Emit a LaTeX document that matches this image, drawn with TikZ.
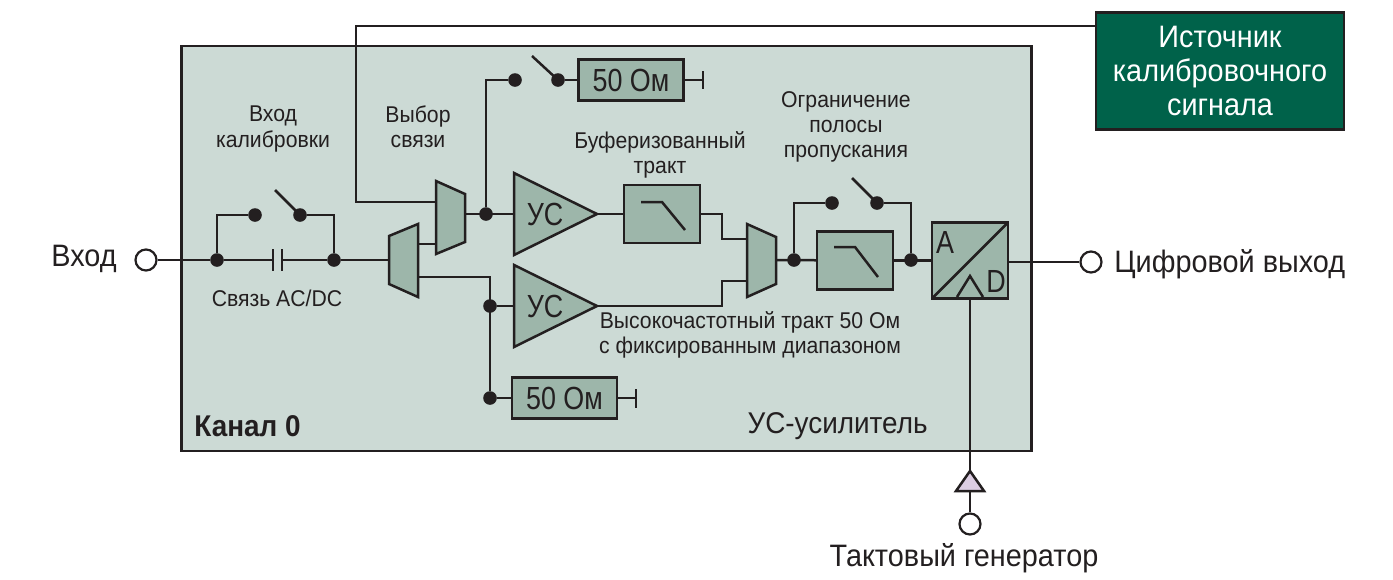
\documentclass[tikz,border=0pt]{standalone}
\usepackage{fontspec}
\setmainfont{Liberation Sans}[FakeStretch=0.93]
\newfontfamily\tallfont{Liberation Sans}[FakeStretch=0.84]
\definecolor{panelc}{HTML}{CCDAD5}
\definecolor{blockc}{HTML}{9DB6AA}
\definecolor{sourcec}{HTML}{00624A}
\definecolor{clockc}{HTML}{DCCDE2}
\definecolor{inkc}{HTML}{231F20}

\begin{document}
\begin{tikzpicture}[
  x=0.5pt, y=-0.5pt,
  wire/.style={draw=inkc, line width=1.25pt, line join=miter},
  block/.style={wire, fill=blockc},
  dotnode/.style={circle, fill=inkc, inner sep=0pt, minimum size=6.8pt},
  pinnode/.style={circle, draw=inkc, fill=white, line width=1.1pt, inner sep=0pt, minimum size=10.5pt},
  talllbl/.style={align=center, text=inkc, inner sep=0pt, font=\tallfont\fontsize{16}{16}\selectfont},
  loadbox/.style={block, talllbl, rectangle, outer sep=0pt, minimum width=52.5pt, minimum height=20.5pt},
  filterbox/.style={block, rectangle, inner sep=0pt, outer sep=0pt, minimum width=38pt, minimum height=29pt},
  lbl/.style={align=center, text=inkc, inner sep=0pt, font=\fontsize{11.4}{12.6}\selectfont},
  biglbl/.style={align=center, text=inkc, inner sep=0pt, font=\fontsize{15.5}{15.5}\selectfont}
  ]

\useasboundingbox (0,0) rectangle (1393,579);

\node [rectangle, draw=inkc, fill=panelc, line width=1.25pt, minimum width=425pt, minimum height=202.5pt, inner sep=0pt] (panel) at (606.5,248.5) {};
\node [rectangle, draw=inkc, fill=sourcec, line width=1.25pt, minimum width=124pt, minimum height=58.5pt, inner sep=0pt, outer sep=0pt, align=center, text=white, font=\fontsize{15.5}{16.8}\selectfont] (src) at (1220,71) {Источник\\калибровочного\\сигнала};

% input side
\node [pinnode] (vin) at (146,260) {};
\node [dotnode] (j1) at (217,260) {};
\node [dotnode] (j2) at (334,260) {};
\node [dotnode] (sw1a) at (255,215) {};
\node [dotnode] (sw1b) at (300,215) {};
\coordinate (sw1end) at (275,190);
\coordinate (capl) at (273,260);
\coordinate (capr) at (282,260);

% muxes
\coordinate (mux1in) at (389,260);
\coordinate (mux1up) at (418,244);
\coordinate (mux1dn) at (418,277);
\coordinate (mux2up) at (436,202);
\coordinate (mux2dn) at (436,244);
\coordinate (mux2out) at (465,214);
\coordinate (mux3up) at (747,239);
\coordinate (mux3dn) at (747,281);
\coordinate (mux3out) at (776,260);
\coordinate (calturn) at (356,26);
\coordinate (srcout) at (1096,26);

\draw [block] (389,236) -- (418,224) -- (418,297) -- (389,284) -- cycle;
\draw [block] (436,181) -- (465,194) -- (465,242) -- (436,254) -- cycle;
\draw [block] (747,224) -- (776,237) -- (776,284) -- (747,297) -- cycle;

% amplifiers
\draw [block] (514,173) coordinate (amp1in) -- (597,214) coordinate (amp1out) -- (514,255) -- cycle;
\draw [block] (514,265) -- (597,306) coordinate (amp2out) -- (514,347) -- cycle;
\coordinate (amp1w) at (514,214);
\coordinate (amp2w) at (514,306);
\node [talllbl] (amp1) at (545,214) {УС};
\node [talllbl] (amp2) at (545,306) {УС};

% upper and lower branches
\node [dotnode] (j3) at (486,214) {};
\node [dotnode] (sw2a) at (515,80) {};
\node [dotnode] (sw2b) at (558,80) {};
\coordinate (sw2end) at (532,56);
\node [loadbox] (load1) at (631,80) {50 Ом};
\coordinate (gnd1) at (703,80);
\node [dotnode] (j4) at (490,306) {};
\node [dotnode] (j5) at (490,398) {};
\node [loadbox] (load2) at (564.5,398) {50 Ом};
\coordinate (gnd2) at (636,398);

% filters
\node [filterbox] (filt1) at (662,214) {};
\node [filterbox] (filt2) at (855,260.5) {};
\draw [wire] ([shift={(-21,-12)}]filt1.center) -- ++(21,0) -- ++(23,28);
\draw [wire] ([shift={(-21,-13.5)}]filt2.center) -- ++(21,0) -- ++(23,30);
\coordinate (turn1) at (722,214);
\coordinate (turn2) at (722,306);

% bandwidth switch
\node [dotnode] (j6) at (794,260) {};
\node [dotnode] (j7) at (911,260) {};
\node [dotnode] (sw3a) at (832,203) {};
\node [dotnode] (sw3b) at (877,203) {};
\coordinate (sw3end) at (852,178);

% ADC
\node [block, rectangle, inner sep=0pt, outer sep=0pt, minimum size=38pt] (adc) at (970,260.5) {};
\draw [wire] (adc.south west) -- (adc.north east);
\draw [wire] (957,297) -- (970,276) -- (983,297);
\node [talllbl] (adca) at (945,242) {A};
\node [talllbl] (adcd) at (996,281) {D};
\node [pinnode] (vout) at (1091,262) {};
\coordinate (adcout) at (1008,262);

% clock
\draw [wire, fill=clockc] (970,471) coordinate (clktop) -- (984,491) -- (956,491) -- cycle;
\coordinate (clkbot) at (970,491);
\node [pinnode] (clk) at (970,524) {};

% connections
\draw [wire] (vin) -- (j1);
\draw [wire] (j1) -- (capl);
\draw [wire] (capr) -- (j2);
\draw [wire] (j2) -- (mux1in);
\draw [wire] (j1) |- (sw1a);
\draw [wire] (j2) |- (sw1b);
\draw [wire] (sw1b.center) -- (sw1end);
\draw [wire] (273,249) -- (273,271);
\draw [wire] (282,249) -- (282,271);
\draw [wire] (mux1up) -- (mux2dn);
\draw [wire] (srcout) -- (calturn) |- (mux2up);
\draw [wire] (mux2out) -- (amp1w);
\draw [wire] (j3) |- (sw2a);
\draw [wire] (sw2b.center) -- (sw2end);
\draw [wire] (sw2b) -- (load1);
\draw [wire] (load1) -- (gnd1);
\draw [wire] (703,71) -- (703,89);
\draw [wire] (mux1dn) -| (j5);
\draw [wire] (j4) -- (amp2w);
\draw [wire] (j5) -- (load2);
\draw [wire] (load2) -- (gnd2);
\draw [wire] (636,389) -- (636,408);
\draw [wire] (amp1out) -- (filt1);
\draw [wire] (filt1.east) -- (turn1) |- (mux3up);
\draw [wire] (amp2out) -- (turn2) |- (mux3dn);
\draw [wire] (mux3out) -- (filt2);
\draw [wire] (filt2) -- (adc);
\draw [wire] (j6) |- (sw3a);
\draw [wire] (j7) |- (sw3b);
\draw [wire] (sw3b.center) -- (sw3end);
\draw [wire] (adcout) -- (vout);
\draw [wire] (adc.south) -- (clktop);
\draw [wire] (clkbot) -- (clk);

% labels
\node [biglbl, anchor=east] (lin) at (117,259) {Вход};
\node [biglbl, anchor=west] (lout) at (1114,264) {Цифровой выход};
\node [biglbl] (lclk) at (964,558) {Тактовый генератор};
\node [lbl] (lcal) at (273,129) {Вход\\калибровки};
\node [lbl] (lsel) at (418,127) {Выбор\\связи};
\node [lbl] (lacdc) at (277,298) {Связь AC/DC};
\node [lbl] (lbuf) at (660,155) {Буферизованный\\тракт};
\node [lbl] (lband) at (846,127) {Ограничение\\полосы\\пропускания};
\node [lbl] (lhf) at (750,335) {Высокочастотный тракт 50 Ом\\с фиксированным диапазоном};
\node [lbl, anchor=west, font=\fontsize{15}{15}\bfseries\selectfont] (lch) at (194,426) {Канал 0};
\node [lbl, anchor=east, font=\fontsize{15}{15}\selectfont] (lamp) at (928,426) {УС-усилитель};

\end{tikzpicture}
\end{document}
